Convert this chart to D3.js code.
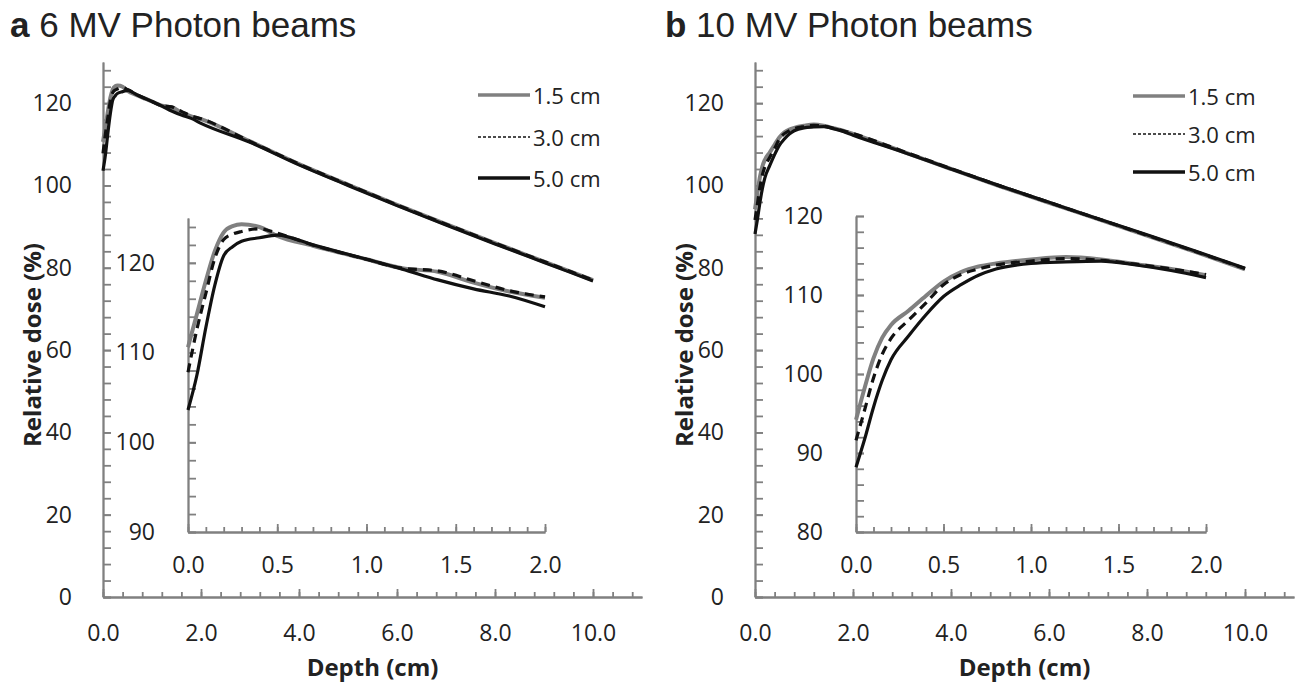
<!DOCTYPE html>
<html>
<head>
<meta charset="utf-8">
<script src="https://cdn.jsdelivr.net/npm/d3@7"></script>
<style>
  body { margin: 0; background: #fff; }
  svg { display: block; }
  text { font-family: "Open Sans", sans-serif; fill: #222; }
</style>
</head>
<body>
<svg width="1300" height="690"></svg>
<script>
'use strict'

// depth (cm) and relative dose (%)
const depth6 = [0, 0.05, 0.1, 0.15, 0.2, 0.25, 0.3, 0.4, 0.5, 0.7, 1.0, 1.2, 1.4, 1.6, 1.8, 2.0, 3, 4, 5, 6, 7, 8, 9, 10];
const dose6_15 = [110.6, 114.3, 118.0, 121.3, 123.4, 124.1, 124.3, 124.0, 123.0, 121.9, 120.4, 119.4, 119.0, 117.8, 116.8, 116.1, 110.7, 105.2, 100.2, 95.3, 90.6, 86.0, 81.5, 77.0];
const dose6_30 = [107.8, 112.6, 116.6, 120.5, 122.6, 123.2, 123.5, 123.8, 123.3, 122.0, 120.4, 119.4, 119.1, 118.0, 116.9, 116.2, 110.7, 105.2, 100.2, 95.3, 90.6, 86.0, 81.5, 77.0];
const dose6_50 = [103.6, 107.5, 112.8, 117.5, 120.8, 121.8, 122.4, 122.8, 123.1, 122.0, 120.4, 119.3, 118.1, 117.1, 116.3, 115.1, 110.5, 105.0, 100.0, 95.1, 90.4, 85.8, 81.3, 76.8];

const depth10 = [0, 0.05, 0.1, 0.15, 0.2, 0.3, 0.4, 0.5, 0.6, 0.7, 0.8, 1.0, 1.2, 1.4, 1.6, 1.8, 2.0, 3, 4, 5, 6, 7, 8, 9, 10];
const dose10_15 = [94.2, 98.3, 102.0, 104.6, 106.2, 108.0, 109.9, 111.7, 112.9, 113.6, 114.0, 114.5, 114.8, 114.5, 113.9, 113.3, 112.5, 108.3, 104.0, 99.8, 95.8, 91.8, 87.8, 83.8, 79.6];
const dose10_30 = [91.6, 95.5, 99.5, 102.5, 104.5, 106.8, 109.0, 111.3, 112.6, 113.3, 113.8, 114.3, 114.6, 114.4, 113.9, 113.3, 112.6, 108.4, 104.1, 99.9, 95.9, 91.9, 87.9, 83.9, 79.8];
const dose10_50 = [88.2, 91.8, 95.8, 99.2, 101.8, 104.8, 107.5, 109.8, 111.3, 112.5, 113.3, 114.0, 114.2, 114.3, 113.8, 113.1, 112.2, 108.2, 104.0, 99.9, 95.9, 91.9, 88.0, 84.0, 79.9];

const fieldSizes = ['1.5 cm', '3.0 cm', '5.0 cm'];
const mainXTicks = [0, 2, 4, 6, 8, 10];
const mainYTicks = [0, 20, 40, 60, 80, 100, 120];
const insetXTicks = [0, 0.5, 1.0, 1.5, 2.0];
const insetYTicks6 = [90, 100, 110, 120];
const insetYTicks10 = [80, 90, 100, 110, 120];

const AXIS_COLOR = '#808080';
const GRAY = '#808080';

const svg = d3.select('svg');

function drawAxes(g, x, y, xTicks, xMinor, yTicks, yMinor, xPad, yPad, fmtX) {
  // minor ticks
  g.append('g')
    .attr('transform', `translate(0,${y.range()[0]})`)
    .call(d3.axisBottom(x).tickValues(xMinor).tickSize(-5).tickSizeOuter(0).tickFormat(''));
  g.append('g')
    .attr('transform', `translate(0,${y.range()[0]})`)
    .call(d3.axisBottom(x).tickValues(xTicks).tickSize(-8).tickSizeOuter(0)
      .tickPadding(xPad).tickFormat(fmtX));
  g.append('g')
    .attr('transform', `translate(${x.range()[0]},0)`)
    .call(d3.axisLeft(y).tickValues(yMinor).tickSize(-8).tickSizeOuter(0).tickFormat(''));
  g.append('g')
    .attr('transform', `translate(${x.range()[0]},0)`)
    .call(d3.axisLeft(y).tickValues(yTicks).tickSize(-8).tickSizeOuter(0)
      .tickPadding(yPad).tickFormat(d3.format('d')));
  g.selectAll('.domain, .tick line').attr('stroke', AXIS_COLOR).attr('stroke-width', 1.8);
  g.selectAll('.tick text').style('font-size', '23px').attr('fill', '#222');
}

function drawCurves(g, x, y, depth, series, maxDepth) {
  const line = d3.line()
    .x(d => x(d[0]))
    .y(d => y(d[1]))
    .curve(d3.curveMonotoneX);
  const styles = [
    { stroke: GRAY, width: 4, dash: null },
    { stroke: '#111', width: 3.2, dash: '9,6' },
    { stroke: '#111', width: 3.2, dash: null }
  ];
  series.forEach((vals, i) => {
    const pts = depth.map((d, j) => [d, vals[j]]).filter(p => p[0] <= maxDepth);
    g.append('path')
      .attr('d', line(pts))
      .attr('fill', 'none')
      .attr('stroke', styles[i].stroke)
      .attr('stroke-width', styles[i].width)
      .attr('stroke-dasharray', styles[i].dash)
      .attr('stroke-linejoin', 'round');
  });
}

function drawPanel(p) {
  const g = svg.append('g');

  // title
  const t = g.append('text')
    .attr('x', p.titleX).attr('y', 37)
    .style('font-family', '"Liberation Sans", Arial, sans-serif')
    .style('font-size', '35px');
  t.append('tspan').attr('font-weight', 'bold').text(p.letter);
  t.append('tspan').text(' ' + p.title);

  // main plot
  const x = d3.scaleLinear().domain([0, 11]).range([p.left, p.left + 539]);
  const y = d3.scaleLinear().domain([0, 130]).range([597, 62]);
  drawAxes(g, x, y, mainXTicks, d3.range(0, 11.01, 0.4), mainYTicks, d3.range(0, 130, 4),
    28, 31, d3.format('.1f'));
  drawCurves(g, x, y, p.depth, p.series, 10);

  // inset
  const xi = d3.scaleLinear().domain([0, 2]).range(p.insetX);
  const yi = d3.scaleLinear().domain(p.insetY).range([532, p.insetTop]);
  drawAxes(g, xi, yi, insetXTicks, d3.range(0, 2.001, 0.1), p.insetTicks,
    d3.range(p.insetY[0], p.insetY[1] + 0.01, 2), 25, 33, d3.format('.1f'));
  drawCurves(g, xi, yi, p.depth, p.series, 2);

  // axis titles
  g.append('text')
    .attr('transform', `translate(${p.left - 72},345) rotate(-90)`)
    .attr('text-anchor', 'middle')
    .attr('dominant-baseline', 'central')
    .style('font-size', '24px').style('font-weight', 'bold')
    .text('Relative dose (%)');
  g.append('text')
    .attr('x', (x.range()[0] + x.range()[1]) / 2).attr('y', 666)
    .attr('text-anchor', 'middle')
    .attr('dominant-baseline', 'central')
    .style('font-size', '24px').style('font-weight', 'bold')
    .text('Depth (cm)');

  // legend
  const legStyles = [
    { stroke: GRAY, width: 3.5, dash: null },
    { stroke: '#111', width: 1.6, dash: '3,2' },
    { stroke: '#111', width: 3.5, dash: null }
  ];
  fieldSizes.forEach((label, i) => {
    const ly = p.legendY[i];
    g.append('line')
      .attr('x1', p.legendX).attr('x2', p.legendX + 52)
      .attr('y1', ly).attr('y2', ly)
      .attr('stroke', legStyles[i].stroke)
      .attr('stroke-width', legStyles[i].width)
      .attr('stroke-dasharray', legStyles[i].dash);
    g.append('text')
      .attr('x', p.legendX + 55).attr('y', ly)
      .attr('dominant-baseline', 'central')
      .style('font-size', '22px')
      .text(label);
  });
}

drawPanel({
  letter: 'a', title: '6 MV Photon beams', titleX: 10, left: 103,
  depth: depth6, series: [dose6_15, dose6_30, dose6_50],
  insetX: [188, 545], insetY: [90, 125], insetTop: 218, insetTicks: insetYTicks6,
  legendX: 478, legendY: [95, 137, 178]
});

drawPanel({
  letter: 'b', title: '10 MV Photon beams', titleX: 665, left: 755,
  depth: depth10, series: [dose10_15, dose10_30, dose10_50],
  insetX: [856, 1206], insetY: [80, 120], insetTop: 216, insetTicks: insetYTicks10,
  legendX: 1133, legendY: [96, 134, 172]
});
</script>
</body>
</html>
